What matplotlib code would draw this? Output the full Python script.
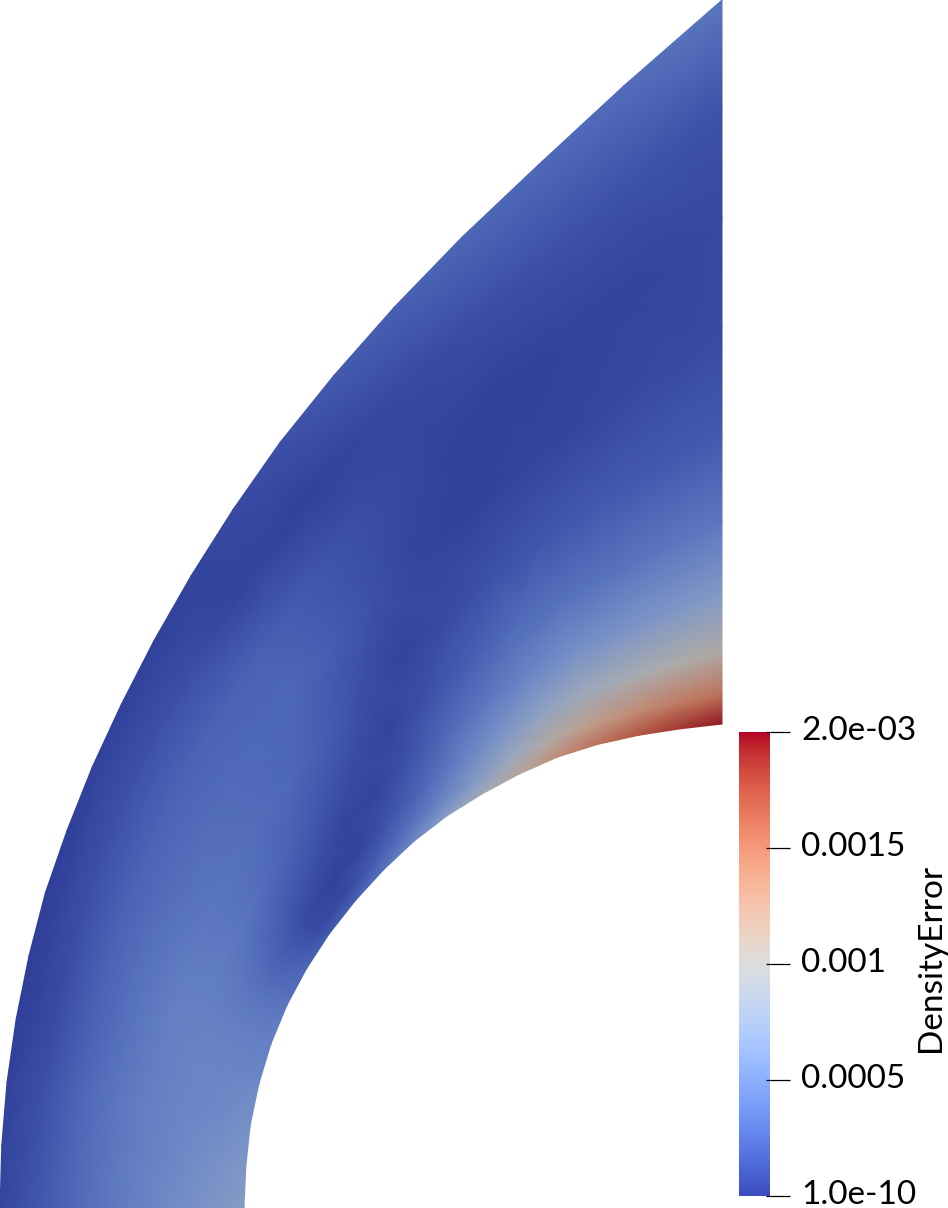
import numpy as np
import matplotlib
matplotlib.use("Agg")
import matplotlib.pyplot as plt
from matplotlib.colors import ListedColormap, Normalize
from matplotlib.transforms import ScaledTranslation

plt.rcParams['font.family'] = ['Lato', 'DejaVu Sans']

# Polar layout of the domain (picture units, centre at lower right of the body)
theta_deg = [0, 5, 10, 15, 20, 25, 30, 35, 40, 45, 50, 55, 60, 65, 70, 75, 80, 85, 90]
inner_radius = [478, 478, 479, 479.5, 480, 480, 479.5, 479, 478.5, 478.5, 479, 479, 478.5, 479, 480, 480, 480, 481, 484]
outer_radius = [722, 723, 726, 730.7, 737.5, 746.5, 756.1, 768.8, 784, 803, 825.7, 852.6, 884, 918.5, 958.6, 1005, 1059, 1126.5, 1208]
layer_fraction = [0, .04, .1, .18, .28, .4, .55, .7, .85, 1]

# DensityError in units of 1e-4, rows = theta, columns = layer fraction
error_e4 = [
    [6.6, 6.5, 6.2, 5.8, 5.3, 4.7, 3.8, 2.8, 1.6, 0.7],
    [6.2, 6.1, 5.8, 5.4, 5.0, 4.5, 3.7, 2.7, 1.4, 0.5],
    [5.6, 5.5, 5.2, 5.0, 4.8, 4.4, 3.7, 2.6, 1.2, 0.4],
    [5.0, 4.9, 4.8, 4.7, 4.7, 4.3, 3.5, 2.4, 1.0, 0.3],
    [4.4, 4.3, 4.3, 4.4, 4.5, 4.3, 3.4, 2.4, 1.0, 0.2],
    [3.6, 3.5, 3.4, 3.7, 4.1, 4.0, 3.3, 2.4, 1.1, 0.2],
    [2.6, 2.2, 2.1, 2.8, 3.6, 3.7, 3.2, 2.5, 1.2, 0.3],
    [1.8, 0.8, 0.8, 1.9, 3.0, 3.3, 3.1, 2.5, 1.3, 0.4],
    [2.2, 0.9, 0.4, 1.2, 2.4, 3.0, 2.9, 2.5, 1.3, 0.4],
    [3.4, 1.9, 0.6, 0.6, 1.7, 2.7, 2.8, 2.4, 1.1, 0.4],
    [5.0, 3.2, 1.5, 0.5, 1.0, 2.1, 2.7, 2.3, 0.7, 0.5],
    [7.0, 4.6, 2.8, 1.4, 0.5, 1.1, 2.1, 1.9, 0.5, 0.9],
    [9.0, 6.4, 4.5, 2.7, 1.2, 0.5, 1.3, 1.4, 0.4, 1.3],
    [11.0, 8.5, 6.0, 3.8, 2.1, 0.9, 0.6, 0.9, 0.7, 1.8],
    [13.5, 10.5, 7.5, 4.8, 2.9, 1.4, 0.4, 0.5, 0.9, 2.2],
    [15.5, 12.2, 8.8, 5.6, 3.3, 1.7, 0.6, 0.4, 1.1, 2.6],
    [17.0, 13.6, 9.6, 6.0, 3.5, 1.8, 0.7, 0.5, 1.3, 2.8],
    [18.5, 14.8, 10.2, 6.3, 3.7, 1.8, 0.8, 0.6, 1.4, 3.0],
    [19.5, 15.5, 10.5, 6.5, 3.8, 1.8, 0.9, 0.8, 1.4, 3.6],
]

tick_values = [1e-10, 0.0005, 0.001, 0.0015, 0.002]
tick_labels = ['1.0e-10', '0.0005', '0.001', '0.0015', '2.0e-03']
bar_title = 'DensityError'

W, H = 948, 1208
fig = plt.figure(figsize=(W / 100, H / 100), dpi=100, facecolor='white')
ax = fig.add_axes([0, 0, 1, 1])
ax.set_xlim(0, W)
ax.set_ylim(H, 0)
ax.axis('off')

th = np.radians(theta_deg)
ri = np.array(inner_radius, float)
ro = np.array(outer_radius, float)
t = np.array(layer_fraction)
R = ri[:, None] + (ro - ri)[:, None] * t[None, :]
X = 722 - R * np.cos(th)[:, None]
Y = 1208 - R * np.sin(th)[:, None]
Z = np.array(error_e4) * 1e-4

base = plt.get_cmap('coolwarm')
lit = base(np.linspace(0, 1, 256))
lit[:, :3] *= 0.78
norm = Normalize(1e-10, 0.002)
ax.pcolormesh(X, Y, Z, shading='gouraud', cmap=ListedColormap(lit), norm=norm)

cax = fig.add_axes([739 / W, 1 - 1196 / H, 31 / W, 464 / H])
sm = plt.cm.ScalarMappable(norm=norm, cmap=base)
cb = fig.colorbar(sm, cax=cax)
cb.outline.set_visible(False)
cb.set_ticks(tick_values)
cb.set_ticklabels(tick_labels)
cax.tick_params(axis='y', direction='out', length=14.4, width=0.9, pad=8, labelsize=24, colors='black')
cax.hlines(tick_values, 0.87, 1.0, color='black', lw=0.9, transform=cax.get_yaxis_transform(), clip_on=False)
shift = ScaledTranslation(0, 4 / 100, fig.dpi_scale_trans)
for lab in cax.get_yticklabels():
    lab.set_transform(lab.get_transform() + shift)

ax.text(931, 958, bar_title, rotation=90, ha='center', va='center', fontsize=24, color='black')

fig.savefig('out.png', dpi=100)
